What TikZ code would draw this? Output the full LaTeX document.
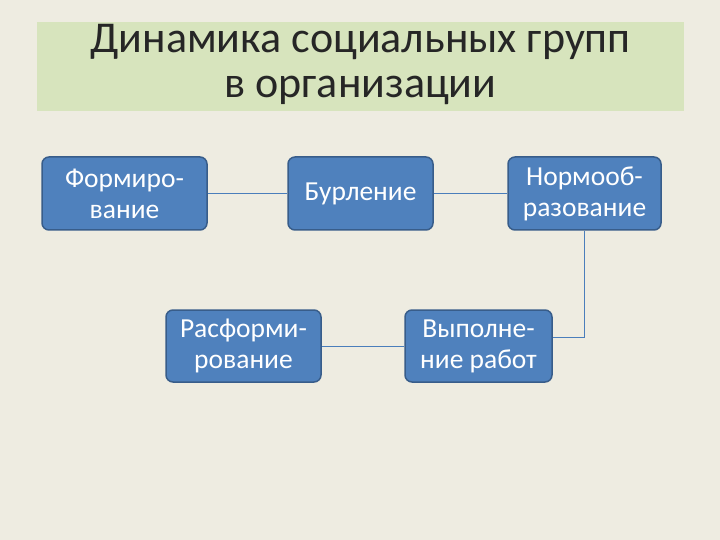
\documentclass[tikz,border=0pt]{standalone}
\usepackage{fontspec}
\setmainfont{Carlito}
\definecolor{bg}{HTML}{EEECE1}
\definecolor{ttl}{HTML}{D7E4BD}
\definecolor{bx}{HTML}{4F81BD}
\definecolor{bxd}{HTML}{385D8A}
\definecolor{ln}{HTML}{4A7EBB}
\begin{document}
\begin{tikzpicture}[x=1pt,y=-1pt,
 box/.style={draw=bxd,line width=1.5pt,fill=bx,rounded corners=7pt,text=white,align=center,font=\fontsize{27.5}{31}\selectfont,inner sep=0pt},
 conn/.style={draw=ln,line width=1pt}]
\fill[bg] (0,0) rectangle (720,540);
\node[fill=ttl,minimum width=647pt,minimum height=89pt,inner sep=0pt] (t) at (360.5,66.5) {};
\node[align=center,font=\fontsize{44}{45}\selectfont,text=black!85,inner sep=0pt] (tt) at (360.5,64) {Динамика социальных групп\\в организации};
\node[box,minimum width=165pt,minimum height=73pt] (a) at (124.5,193.5) {Формиро-\\вание};
\node[box,minimum width=145pt,minimum height=73pt] (b) at (360.5,193.5) {Бурление};
\node[box,minimum width=153pt,minimum height=73pt] (c) at (584.5,193.5) {Нормооб-\\разование};
\node[box,minimum width=155pt,minimum height=72pt] (d) at (243.5,346) {Расформи-\\рование};
\node[box,minimum width=147pt,minimum height=72pt] (e) at (478.5,346) {Выполне-\\ние работ};
\draw[conn] (a.east) -- (b.west);
\draw[conn] (b.east) -- (c.west);
\draw[conn] (c.south) |- (e.east |- 0,337) -- (e.east |- 0,337);
\draw[conn] (e.west) -- (d.east);
\end{tikzpicture}
\end{document}
